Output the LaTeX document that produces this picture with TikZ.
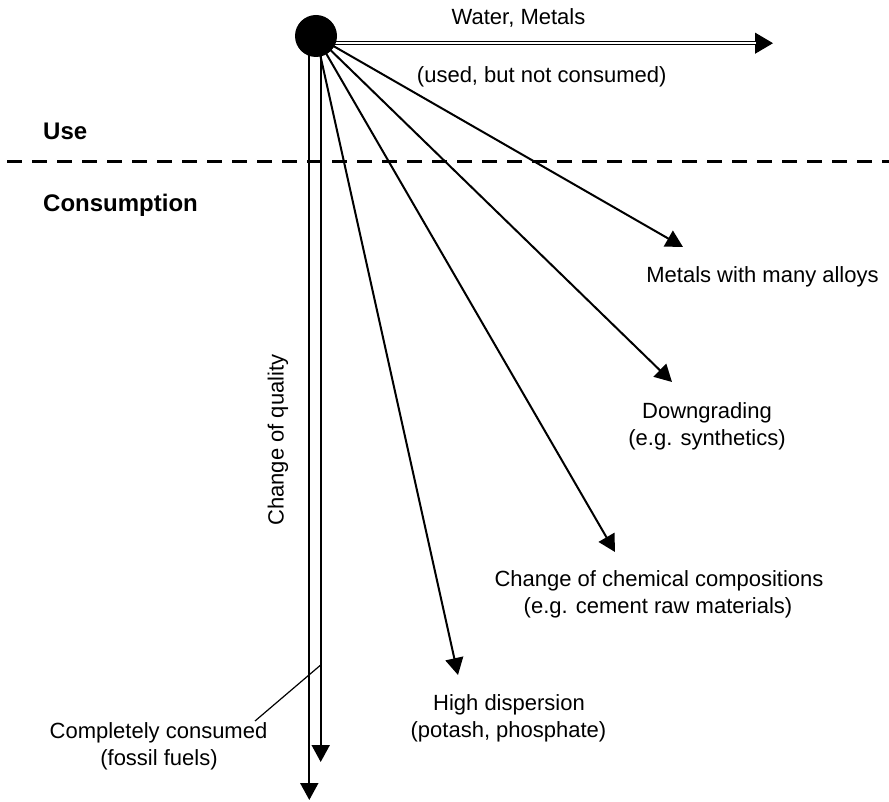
\documentclass[tikz,border=0pt]{standalone}
\usepackage{fontspec}
\setmainfont{Liberation Sans}
\usetikzlibrary{arrows.meta}

\begin{document}
\begin{tikzpicture}[x=1pt,y=-1pt,
  lbl/.style={font=\fontsize{22}{27}\selectfont, inner sep=0pt, anchor=base},
  hdr/.style={font=\fontsize{24}{28}\selectfont\bfseries, inner sep=0pt, anchor=base west},
  flow/.style={line width=2pt, -{Triangle[length=17pt,width=18pt]}},
  dbl/.style={double, line width=1.4pt, double distance=1.6pt},
  divider/.style={line width=3.2pt, dash pattern=on 15pt off 10pt},
  leader/.style={line width=1.2pt},
  hubdot/.style={circle, fill=black, minimum size=42pt, inner sep=0pt}
]
\useasboundingbox (0,0) rectangle (889,802);

% hub and end points
\coordinate (hub) at (316,36);
\coordinate (wA) at (316,43.2);
\coordinate (wB) at (756,43.2);
\coordinate (wT) at (773,43.2);
\coordinate (qA) at (309.3,36);
\coordinate (qT) at (309.3,800);
\coordinate (cA) at (320.7,36);
\coordinate (cT) at (320.7,762);
\coordinate (tAlloy) at (683,247);
\coordinate (tDown) at (672,382);
\coordinate (tChem) at (615,552);
\coordinate (tDisp) at (458,675);
\coordinate (ldrA) at (320.7,665);
\coordinate (ldrB) at (255,721);
\coordinate (dashL) at (7,161.7);
\coordinate (dashR) at (889,161.7);

% use / consumption divider
\draw[divider] (dashL) -- (dashR);
\node[hdr] (use) at (43,140) {Use};
\node[hdr] (cons) at (43,212) {Consumption};

% used, but not consumed
\draw[line width=1pt, -{Triangle[length=18pt,width=21pt]}] (wA) -- (wT);
\draw[dbl] (wA) -- (wB);
\node[lbl] (water) at (518.5,25) {Water, Metals};
\node[lbl] (used) at (541.7,83) {(used, but not consumed)};

% quality axis and complete consumption
\draw[flow] (qA) -- (qT);
\draw[flow] (cA) -- (cT);
\node[lbl, rotate=90] (quality) at (283.5,440) {Change of quality};

% fan of consumption paths
\draw[flow] (hub) -- (tAlloy);
\draw[flow] (hub) -- (tDown);
\draw[flow] (hub) -- (tChem);
\draw[flow] (hub) -- (tDisp);

% hub
\node[hubdot] (src) at (hub) {};

% labels
\node[lbl] (alloy) at (762.5,283) {Metals with many alloys};
\node[lbl] (down1) at (707,418) {Downgrading};
\node[lbl] (down2) at (707,445) {(e.g. synthetics)};
\node[lbl] (chem1) at (659,586) {Change of chemical compositions};
\node[lbl] (chem2) at (658,613) {(e.g. cement raw materials)};
\node[lbl] (disp1) at (509,710) {High dispersion};
\node[lbl] (disp2) at (508.5,737) {(potash, phosphate)};
\node[lbl] (cc1) at (158.5,738) {Completely consumed};
\node[lbl] (cc2) at (159,765) {(fossil fuels)};
\draw[leader] (ldrA) -- (ldrB);
\end{tikzpicture}
\end{document}
